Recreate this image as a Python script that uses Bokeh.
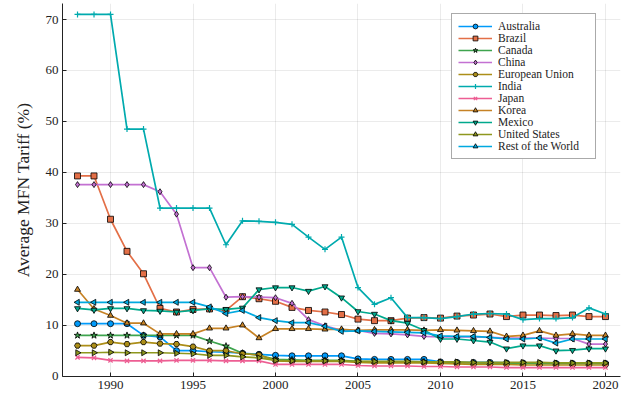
import math
from bokeh.plotting import figure
from bokeh.models import Range1d, Legend, LegendItem, FixedTicker
from bokeh.embed import file_html
from bokeh.resources import INLINE

years = list(range(1988, 2021))

australia = [10.3, 10.3, 10.3, 10.3, 8.0, 7.7, 5.0, 5.0, 4.8, 4.7, 4.5, 4.3, 4.1, 4.0, 4.0, 4.0, 4.0,
             3.4, 3.3, 3.3, 3.3, 3.3, 2.8, 2.7, 2.7, 2.7, 2.6, 2.6, 2.5, 2.5, 2.5, 2.5, 2.5]
brazil = [39.3, 39.3, 30.8, 24.5, 20.1, 13.3, 12.6, 13.1, 13.2, 12.9, 15.6, 15.2, 14.7, 13.5, 12.9, 12.6, 12.1,
          11.2, 10.9, 10.9, 11.4, 11.5, 11.4, 11.8, 12.0, 12.2, 11.7, 12.0, 12.0, 11.9, 12.0, 11.7, 11.7]
canada = [8.0, 8.0, 8.0, 8.0, 8.0, 8.0, 8.0, 8.0, 6.9, 5.9, 4.5, 4.1, 3.3, 3.2, 3.1, 3.1, 3.1,
          2.9, 2.8, 2.8, 2.8, 2.8, 2.7, 2.6, 2.6, 2.5, 2.5, 2.5, 2.5, 2.5, 2.5, 2.5, 2.5]
china = [37.6, 37.6, 37.6, 37.6, 37.6, 36.2, 31.8, 21.3, 21.3, 15.5, 15.6, 15.5, 15.4, 14.3, 11.1, 9.9, 9.0,
         9.0, 8.4, 8.3, 8.1, 7.8, 7.7, 7.7, 7.7, 7.6, 7.5, 7.5, 7.5, 7.4, 7.4, 6.3, 6.3]
eu = [6.0, 6.0, 6.7, 6.3, 6.7, 6.4, 6.3, 5.8, 5.0, 5.0, 4.4, 4.2, 3.0, 2.9, 2.9, 2.9, 2.9,
      2.7, 2.6, 2.6, 2.6, 2.6, 2.5, 2.4, 2.3, 2.3, 2.3, 2.2, 2.2, 2.2, 2.2, 2.2, 2.2]
india = [71.0, 71.0, 71.0, 48.5, 48.5, 33.0, 33.0, 33.0, 33.0, 25.8, 30.5, 30.4, 30.2, 29.8, 27.3, 24.9, 27.3,
         17.4, 14.1, 15.4, 11.5, 11.5, 11.3, 11.7, 12.2, 12.3, 12.2, 11.1, 11.3, 11.3, 11.5, 13.4, 12.2]
japan = [3.7, 3.6, 3.1, 3.0, 3.0, 3.0, 3.1, 3.1, 3.1, 3.0, 3.0, 3.0, 2.3, 2.3, 2.3, 2.3, 2.3,
         2.1, 2.0, 2.0, 2.0, 1.9, 1.9, 1.8, 1.8, 1.8, 1.7, 1.7, 1.7, 1.7, 1.7, 1.7, 1.7]
korea = [17.0, 13.2, 11.9, 10.4, 10.4, 8.3, 8.3, 8.3, 9.4, 9.4, 10.0, 7.5, 9.3, 9.3, 9.3, 9.2, 9.2,
         9.0, 9.1, 9.1, 9.1, 9.0, 9.1, 9.0, 8.9, 8.8, 7.8, 8.0, 8.9, 8.0, 8.3, 8.0, 8.0]
mexico = [13.3, 13.0, 13.3, 13.3, 12.9, 12.8, 12.6, 12.9, 13.2, 13.1, 13.4, 17.0, 17.4, 17.4, 16.7, 17.6, 15.4,
          12.7, 12.2, 10.9, 10.4, 9.0, 7.3, 7.3, 7.0, 6.7, 5.4, 6.0, 6.0, 5.0, 5.1, 5.4, 5.4]
us = [4.6, 4.6, 4.7, 4.6, 4.6, 4.6, 4.5, 4.4, 4.1, 4.1, 3.8, 3.6, 3.1, 3.0, 3.0, 3.0, 3.0,
      2.9, 2.9, 2.9, 2.9, 2.8, 2.8, 2.8, 2.7, 2.7, 2.7, 2.7, 2.7, 2.6, 2.6, 2.6, 2.6]
row = [14.5, 14.5, 14.5, 14.5, 14.5, 14.5, 14.5, 14.5, 13.6, 12.3, 12.9, 11.5, 10.9, 10.5, 10.5, 9.8, 8.8,
       8.9, 8.8, 8.7, 8.6, 8.5, 7.9, 7.8, 7.8, 7.6, 7.3, 7.3, 7.5, 6.5, 7.3, 7.3, 7.3]

names = ["Australia", "Brazil", "Canada", "China", "European Union", "India", "Japan",
         "Korea", "Mexico", "United States", "Rest of the World"]
series = [australia, brazil, canada, china, eu, india, japan, korea, mexico, us, row]
colors = ["#009AFA", "#E36F47", "#3EA44E", "#C371D2", "#AC8E18", "#00AAAE", "#ED5E93",
          "#C68225", "#00A98D", "#8E971E", "#00A9E0"]
markers = ["circle", "square", "star", "diamond", "hex", "cross", "x",
           "triangle", "inverted_triangle", "triangle", "triangle"]
angles = [0, 0, 0, 0, 0, 0, 0, 0, 0, -math.pi / 2, math.pi / 2]
sizes = [6, 6, 7, 6, 6, 6, 6, 6, 6, 6, 6]
x_ticks = [1990, 1995, 2000, 2005, 2010, 2015, 2020]
y_ticks = [0, 10, 20, 30, 40, 50, 60, 70]

FONT = "Liberation Serif"

p = figure(width=623, height=400, output_backend="svg", toolbar_location=None,
           x_range=Range1d(1987.09, 2020.91), y_range=Range1d(-0.06, 73.14),
           min_border_left=62, min_border_right=3, min_border_top=3, min_border_bottom=24)
p.outline_line_color = None
p.background_fill_color = "white"

items = []
for name, vals, c, m, a, s in zip(names, series, colors, markers, angles, sizes):
    lr = p.line(years, vals, line_color=c, line_width=1.7)
    if m in ("cross", "x"):
        sr = p.scatter(years, vals, marker=m, size=s, angle=a, line_color=c, line_width=1.2)
    else:
        sr = p.scatter(years, vals, marker=m, size=s, angle=a, fill_color=c,
                       line_color="black", line_width=0.8)
    items.append(LegendItem(label=name, renderers=[lr, sr]))

legend = Legend(items=items, location=(389, 217), margin=0, padding=6, spacing=0,
                label_height=12, glyph_height=12, glyph_width=34, label_standoff=6,
                label_width=91, label_text_font=FONT, label_text_font_size="11.5px",
                label_text_color="#222222", border_line_color="#555555",
                border_line_width=1, background_fill_alpha=1)
p.add_layout(legend, "center")

for ax in (p.xaxis[0], p.yaxis[0]):
    ax.major_tick_in = 4
    ax.major_tick_out = 0
    ax.minor_tick_line_color = None
    ax.axis_line_color = "#222222"
    ax.major_tick_line_color = "#222222"
    ax.major_label_text_font = FONT
    ax.major_label_text_font_size = "13px"
    ax.major_label_text_color = "#222222"
    ax.major_label_standoff = 4

p.xaxis.ticker = FixedTicker(ticks=x_ticks)
p.yaxis.ticker = FixedTicker(ticks=y_ticks)
p.yaxis.axis_label = "Average MFN Tariff (%)"
p.yaxis.axis_label_text_font = FONT
p.yaxis.axis_label_text_font_style = "normal"
p.yaxis.axis_label_text_font_size = "17.5px"
p.yaxis.axis_label_text_color = "#222222"
p.yaxis.axis_label_standoff = 10

p.xgrid.grid_line_color = "black"
p.xgrid.grid_line_alpha = 0.08
p.ygrid.grid_line_color = "black"
p.ygrid.grid_line_alpha = 0.08

open("out.html", "w").write(file_html(p, INLINE))
